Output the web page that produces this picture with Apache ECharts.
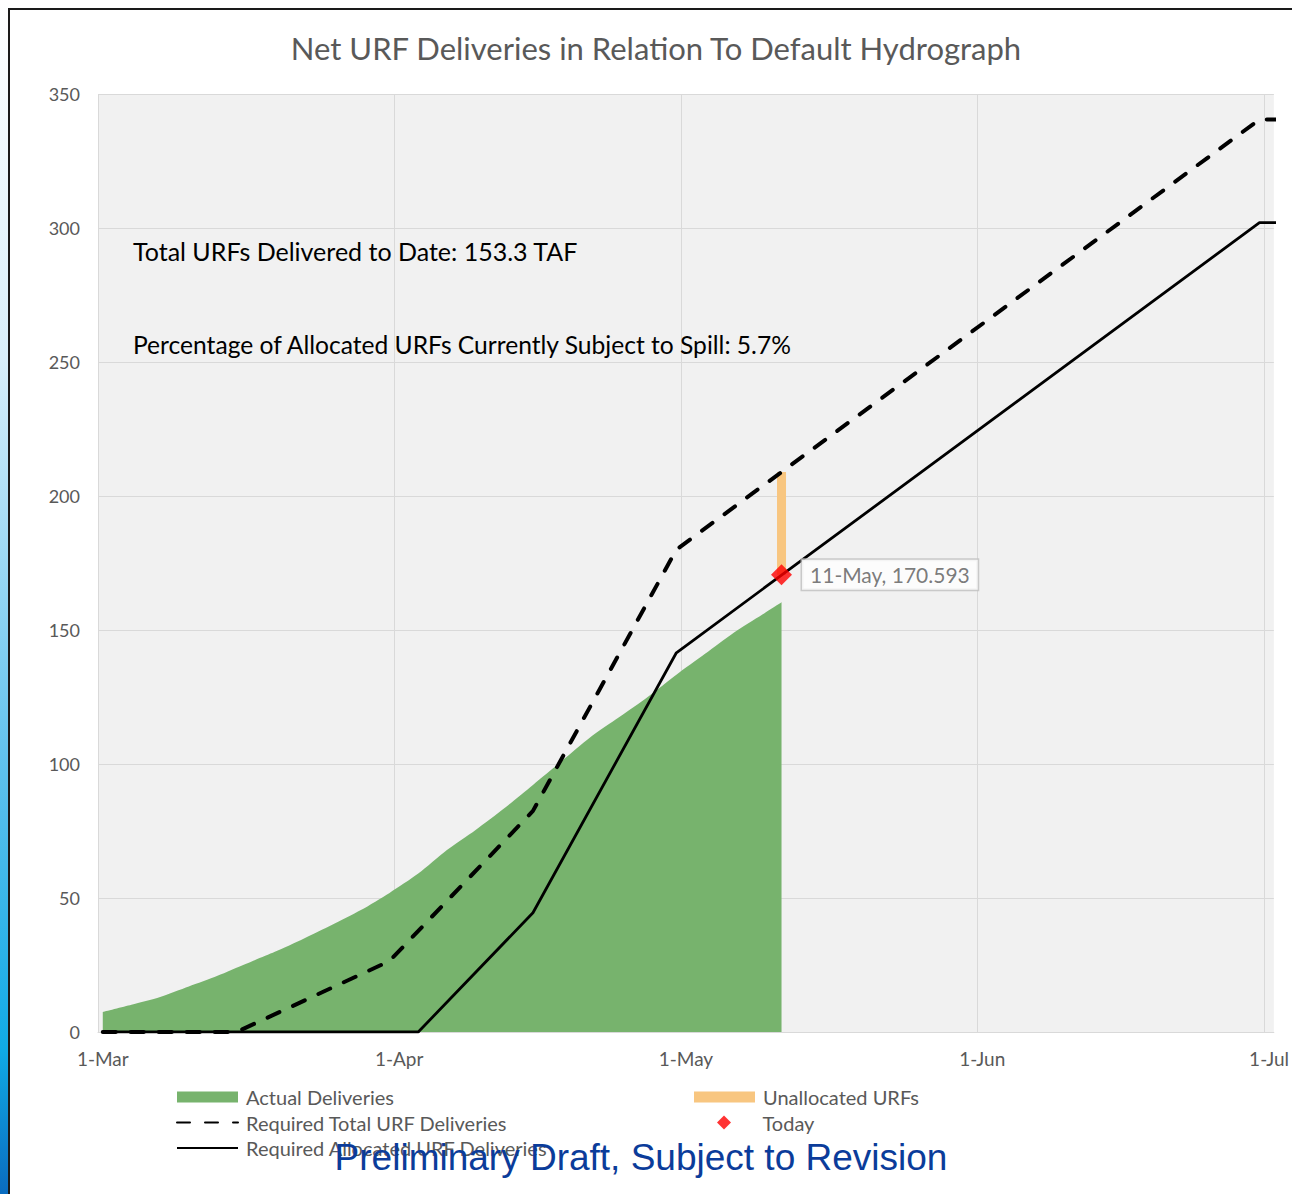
<!DOCTYPE html>
<html>
<head>
<meta charset="utf-8">
<script src="https://cdn.jsdelivr.net/npm/echarts@6/dist/echarts.min.js"></script>
<style>
html,body{margin:0;padding:0;background:#fff;}
#chart{width:1292px;height:1194px;}
</style>
</head>
<body>
<div id="chart"></div>
<script>
// ---- data (x = days since 1-Mar) ----
const xTickLabels = ['1-Mar', '1-Apr', '1-May', '1-Jun', '1-Jul'];
const xLabelDays = [0, 31, 61, 92, 122];
const xGridDays = [-0.5, 30.5, 60.5, 91.5, 121.5];
const yTicks = [0, 50, 100, 150, 200, 250, 300, 350];

const actualDays = [0, 3, 6, 9, 12, 15, 18, 21, 24, 27, 30, 33, 36, 39, 42, 45, 48, 51, 54, 57, 60, 63, 66, 69, 71];
const actualValues = [7.5, 10.2, 13.1, 17.0, 21.0, 25.5, 29.9, 34.8, 40.0, 45.5, 51.9, 59.1, 67.9, 75.4, 83.5, 92.2, 101.1, 110.0, 117.4, 125.0, 133.3, 141.1, 149.0, 155.8, 160.4];

const totalReqDays = [0, 14, 30, 45, 60, 121, 123];
const totalReqValues = [0, 0, 26.5, 82.5, 180, 340.5, 340.5];

const allocReqDays = [0, 33, 45, 60, 121, 123];
const allocReqValues = [0, 0, 44.5, 141.5, 302, 302];

const todayDay = 71;
const todayLabel = '11-May';
const todayValue = 170.593;
const unallocTop = 209;

const titleText = 'Net URF Deliveries in Relation To Default Hydrograph';
const note1 = 'Total URFs Delivered to Date: 153.3 TAF';
const note2 = 'Percentage of Allocated URFs Currently Subject to Spill: 5.7%';
const watermark = 'Preliminary Draft, Subject to Revision';

const zip = (xs, ys) => xs.map((x, i) => [x, ys[i]]);

const FONT = 'Lato';
const GREY = '#595959';

const chart = echarts.init(document.getElementById('chart'), null, {renderer: 'svg'});

const legendText = {color: GREY, fontSize: 20, fontFamily: FONT, lineHeight: 20, padding: [0, 0, 0, 3]};

const option = {
  animation: false,
  backgroundColor: '#ffffff',
  grid: {
    left: 98, top: 94, right: 15, bottom: 162,
    show: true, backgroundColor: '#f1f1f1', borderWidth: 0,
    containLabel: false
  },
  xAxis: {
    type: 'value',
    min: -0.5, max: 122.5,
    axisLine: {show: true, lineStyle: {color: '#d9d9d9', width: 1}},
    axisTick: {show: false, customValues: xGridDays},
    splitLine: {show: true, lineStyle: {color: '#d9d9d9', width: 1}},
    axisLabel: {
      customValues: xLabelDays,
      formatter: v => xTickLabels[xLabelDays.indexOf(v)] || '',
      color: GREY, fontSize: 19, fontFamily: FONT, margin: 17
    }
  },
  yAxis: {
    type: 'value',
    min: yTicks[0], max: yTicks[yTicks.length - 1], interval: 50,
    axisLine: {show: false},
    axisTick: {show: false},
    splitLine: {show: true, lineStyle: {color: '#d9d9d9', width: 1}},
    axisLabel: {color: GREY, fontSize: 18, fontFamily: FONT, margin: 18}
  },
  legend: [
    {
      left: 171, top: 1082, orient: 'vertical',
      itemWidth: 61, itemHeight: 11, itemGap: 5.5,
      textStyle: legendText,
      data: [
        {name: 'Actual Deliveries', icon: 'rect'},
        {name: 'Required Total URF Deliveries', itemStyle: {opacity: 0}},
        {name: 'Required Allocated URF Deliveries', itemStyle: {opacity: 0}}
      ]
    },
    {
      left: 689, top: 1082, orient: 'vertical',
      itemWidth: 61, itemHeight: 11,
      textStyle: legendText,
      data: [
        {name: 'Unallocated URFs', icon: 'rect'}
      ]
    },
    {
      left: 712, top: 1107.5, orient: 'vertical',
      itemWidth: 61, itemHeight: 14,
      symbolKeepAspect: true,
      textStyle: {color: GREY, fontSize: 20, fontFamily: FONT, lineHeight: 20, padding: [0, 0, 0, 3]},
      data: [
        {name: 'Today', icon: 'path://M0,-1L1,0L0,1L-1,0Z'}
      ]
    }
  ],
  series: [
    {
      name: 'Actual Deliveries',
      type: 'line',
      data: zip(actualDays, actualValues),
      showSymbol: false, symbol: 'none',
      smooth: 0.25,
      color: '#77b36d',
      lineStyle: {width: 0, color: '#77b36d'},
      areaStyle: {color: '#77b36d', opacity: 1},
      z: 1
    },
    {
      name: 'Unallocated URFs',
      type: 'line',
      data: [[todayDay, todayValue], [todayDay, unallocTop]],
      symbol: 'none',
      color: '#f8c680',
      itemStyle: {color: '#f8c680'},
      lineStyle: {width: 9, color: '#f8c680', cap: 'butt'},
      z: 2
    },
    {
      name: 'Required Total URF Deliveries',
      type: 'line',
      data: zip(totalReqDays, totalReqValues),
      symbol: 'none',
      color: '#000000',
      lineStyle: {width: 4, color: '#000000', type: [13, 15], cap: 'round'},
      z: 3
    },
    {
      name: 'Required Allocated URF Deliveries',
      type: 'line',
      data: zip(allocReqDays, allocReqValues),
      symbol: 'none',
      color: '#000000',
      lineStyle: {width: 2.8, color: '#000000', type: 'solid'},
      z: 4
    },
    {
      name: 'Today',
      type: 'scatter',
      data: [[todayDay, todayValue]],
      symbol: 'diamond',
      symbolSize: 21,
      color: '#ff0000',
      itemStyle: {color: '#ff0000'},
      label: {
        show: true, position: 'right', distance: 10,
        formatter: () => todayLabel + ', ' + todayValue,
        backgroundColor: '#ffffff', borderColor: '#bfbfbf', borderWidth: 1.5,
        padding: [5, 8, 4, 8],
        color: GREY, fontSize: 21, fontFamily: FONT
      },
      z: 5
    }
  ],
  graphic: [
    {
      type: 'rect', z: 100,
      shape: {x: 0, y: 0, width: 8, height: 1194},
      style: {
        fill: new echarts.graphic.LinearGradient(0, 0, 0, 1, [
          {offset: 0, color: '#ffffff'},
          {offset: 0.3, color: '#d8effa'},
          {offset: 0.65, color: '#5cc0ec'},
          {offset: 0.88, color: '#10aae6'},
          {offset: 1, color: '#0a6cc0'}
        ])
      }
    },
    {type: 'rect', z: 100, shape: {x: 8, y: 8, width: 1284, height: 2}, style: {fill: '#1a1a1a'}},
    {type: 'rect', z: 100, shape: {x: 8, y: 8, width: 2, height: 1186}, style: {fill: '#1a1a1a'}},
    {
      type: 'text', z: 100, x: 656, y: 48,
      style: {text: titleText, fill: GREY, fontSize: 31, fontFamily: FONT, align: 'center', verticalAlign: 'middle'}
    },
    {
      type: 'text', z: 100, x: 133, y: 251,
      style: {text: note1, fill: '#000000', fontSize: 25, fontFamily: FONT, align: 'left', verticalAlign: 'middle'}
    },
    {
      type: 'text', z: 100, x: 133, y: 344,
      style: {text: note2, fill: '#000000', fontSize: 24.6, fontFamily: FONT, align: 'left', verticalAlign: 'middle'}
    },
    {
      type: 'text', z: 100, x: 641, y: 1157,
      style: {text: watermark, fill: '#0b3c9a', fontSize: 37, fontFamily: '"Liberation Sans", Arial, sans-serif', align: 'center', verticalAlign: 'middle'}
    }
  ]
};

chart.setOption(option);
</script>
</body>
</html>
